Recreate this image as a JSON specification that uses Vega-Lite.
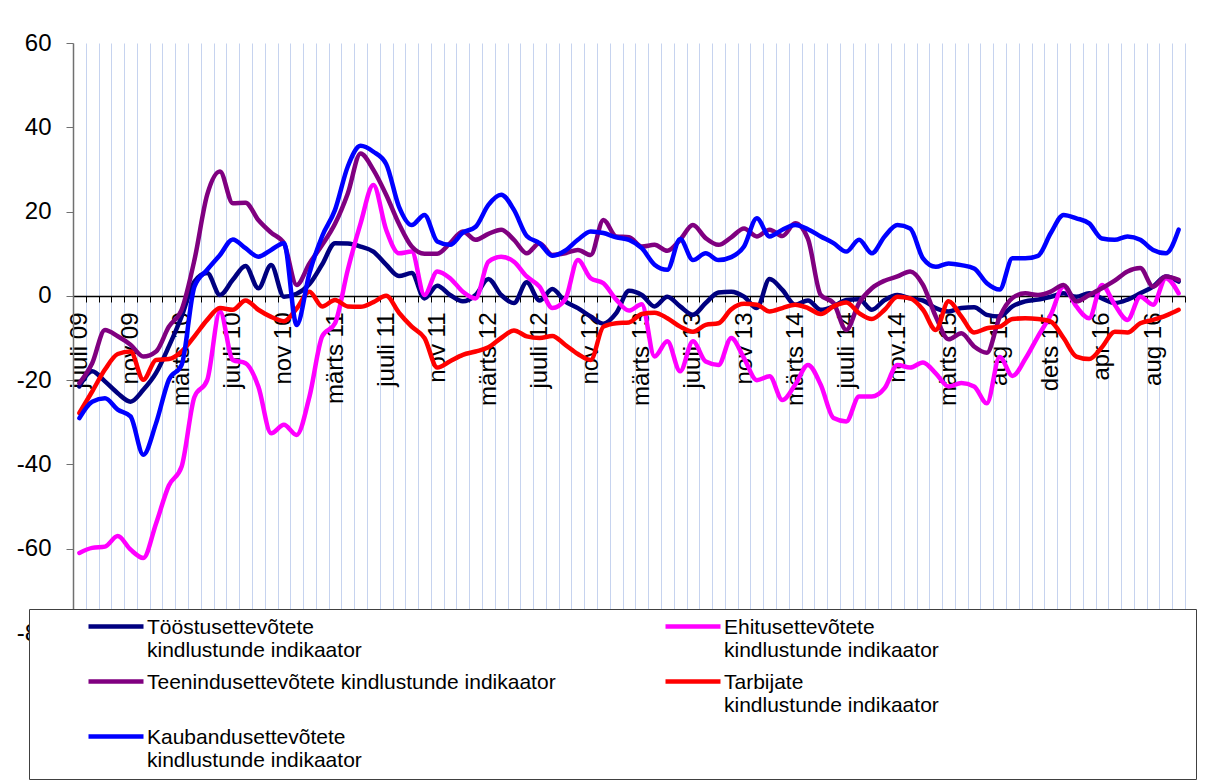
{
  "$schema": "https://vega.github.io/schema/vega-lite/v6.json",
  "width": 1112,
  "height": 590,
  "autosize": {"type": "none"},
  "padding": {"left": 73, "top": 43, "right": 29, "bottom": 148},
  "background": "white",
  "config": {"view": {"stroke": null}, "font": "Liberation Sans"},
  "data": {"values": [
    {"i":0,"T":-21.5,"E":-61,"P":-20.7,"R":-27.8,"B":-29},
    {"i":1,"T":-17.9,"E":-59.8,"P":-16,"R":-22.7,"B":-25.1},
    {"i":2,"T":-20.3,"E":-59.5,"P":-8.1,"R":-17.5,"B":-24.3},
    {"i":3,"T":-23.1,"E":-57,"P":-9.6,"R":-13.8,"B":-27},
    {"i":4,"T":-25.1,"E":-60.2,"P":-11.6,"R":-13.2,"B":-28.6},
    {"i":5,"T":-22.3,"E":-62.2,"P":-14.4,"R":-19.9,"B":-37.7},
    {"i":6,"T":-18.3,"E":-54,"P":-13.2,"R":-15.2,"B":-30.2},
    {"i":7,"T":-12,"E":-45,"P":-7.3,"R":-15,"B":-19.9},
    {"i":8,"T":-4.9,"E":-40.5,"P":-3.3,"R":-13.2,"B":-16.4},
    {"i":9,"T":3.4,"E":-24,"P":8.5,"R":-9.6,"B":2.2},
    {"i":10,"T":5.4,"E":-20,"P":24,"R":-5.7,"B":6.2},
    {"i":11,"T":0.2,"E":-3.7,"P":29.5,"R":-2.9,"B":9.7},
    {"i":12,"T":3.8,"E":-15.2,"P":22,"R":-3.3,"B":13.4},
    {"i":13,"T":7.1,"E":-16,"P":22.1,"R":-1.1,"B":11.3},
    {"i":14,"T":1.8,"E":-21.5,"P":18,"R":-3.3,"B":9.3},
    {"i":15,"T":7.3,"E":-32.6,"P":15,"R":-5,"B":10.9},
    {"i":16,"T":-0.2,"E":-30.6,"P":12.5,"R":-6,"B":12.5},
    {"i":17,"T":0.5,"E":-33,"P":2.6,"R":-3,"B":-6.9},
    {"i":18,"T":2.8,"E":-23.9,"P":7.7,"R":1,"B":5.4},
    {"i":19,"T":7.5,"E":-9.6,"P":12.1,"R":-2.5,"B":14.2},
    {"i":20,"T":12.5,"E":-6.5,"P":17.1,"R":-1,"B":20.4},
    {"i":21,"T":12.4,"E":6.2,"P":24.3,"R":-2.5,"B":30.7},
    {"i":22,"T":11.7,"E":17.2,"P":33.8,"R":-2.6,"B":35.6},
    {"i":23,"T":10.5,"E":26.3,"P":29.9,"R":-1.5,"B":34.2},
    {"i":24,"T":7.4,"E":15.7,"P":24,"R":0,"B":31.3},
    {"i":25,"T":4.7,"E":10.1,"P":17.1,"R":-4,"B":21.2},
    {"i":26,"T":5.4,"E":10.5,"P":11.7,"R":-7.3,"B":16.8},
    {"i":27,"T":-0.6,"E":0.2,"P":10,"R":-10,"B":19.2},
    {"i":28,"T":2.4,"E":5.8,"P":10,"R":-17,"B":12.9},
    {"i":29,"T":0.2,"E":4.2,"P":12.5,"R":-15.5,"B":12.1},
    {"i":30,"T":-1.3,"E":1,"P":15.3,"R":-14,"B":15},
    {"i":31,"T":0.2,"E":-0.6,"P":13.3,"R":-13.2,"B":16.4},
    {"i":32,"T":4,"E":8.1,"P":14.7,"R":-12.2,"B":21.6},
    {"i":33,"T":0.2,"E":9.3,"P":15.7,"R":-10,"B":24},
    {"i":34,"T":-1.7,"E":8.1,"P":13.3,"R":-8.2,"B":20.4},
    {"i":35,"T":3.2,"E":4.6,"P":10.1,"R":-9.6,"B":14.2},
    {"i":36,"T":-1.1,"E":2.2,"P":12.5,"R":-10,"B":12.5},
    {"i":37,"T":1.6,"E":-2.9,"P":9.7,"R":-9.5,"B":9.5},
    {"i":38,"T":-1.3,"E":-0.9,"P":10.1,"R":-11.6,"B":10.7},
    {"i":39,"T":-2.9,"E":8.5,"P":10.9,"R":-13.8,"B":13.3},
    {"i":40,"T":-4.9,"E":4.2,"P":9.7,"R":-15.2,"B":15.3},
    {"i":41,"T":-6.6,"E":3,"P":18,"R":-7.3,"B":14.9},
    {"i":42,"T":-4.1,"E":-0.9,"P":14.1,"R":-6.5,"B":13.9},
    {"i":43,"T":1.2,"E":-3.5,"P":13.9,"R":-6.3,"B":13.3},
    {"i":44,"T":0.2,"E":-2,"P":11.7,"R":-4.3,"B":11.3},
    {"i":45,"T":-2.5,"E":-14.4,"P":12.1,"R":-4,"B":7.4},
    {"i":46,"T":-0.2,"E":-10.8,"P":10.7,"R":-5.3,"B":6.2},
    {"i":47,"T":-2.5,"E":-17.9,"P":13.3,"R":-7.3,"B":13.5},
    {"i":48,"T":-4.5,"E":-10.8,"P":16.8,"R":-8.5,"B":8.5},
    {"i":49,"T":-1.7,"E":-15.6,"P":13.7,"R":-6.9,"B":10.1},
    {"i":50,"T":0.8,"E":-16.4,"P":12.1,"R":-6.5,"B":8.5},
    {"i":51,"T":1,"E":-10,"P":13.9,"R":-3.2,"B":9.2},
    {"i":52,"T":-0.2,"E":-14.8,"P":16,"R":-1.9,"B":11.7},
    {"i":53,"T":-2.9,"E":-20,"P":14.1,"R":-2.1,"B":18.4},
    {"i":54,"T":4,"E":-19.1,"P":15.7,"R":-3.7,"B":14.1},
    {"i":55,"T":1.4,"E":-24.7,"P":14.2,"R":-2.9,"B":15.7},
    {"i":56,"T":-2.1,"E":-21.1,"P":17.2,"R":-2.1,"B":16.8},
    {"i":57,"T":-1.1,"E":-16.4,"P":13.5,"R":-2.9,"B":15.8},
    {"i":58,"T":-3.3,"E":-21.1,"P":0.2,"R":-4.3,"B":14.1},
    {"i":59,"T":-2.5,"E":-29,"P":-1.7,"R":-2.5,"B":12.5},
    {"i":60,"T":-1,"E":-29.8,"P":-8.1,"R":-1.6,"B":10.5},
    {"i":61,"T":-0.8,"E":-23.9,"P":-1.7,"R":-4.1,"B":13.3},
    {"i":62,"T":-3.3,"E":-23.9,"P":1.8,"R":-5.5,"B":10.1},
    {"i":63,"T":-1,"E":-21.9,"P":3.6,"R":-3.3,"B":14.1},
    {"i":64,"T":0.2,"E":-16.4,"P":4.6,"R":-0.2,"B":16.8},
    {"i":65,"T":-0.6,"E":-17,"P":5.8,"R":-0.6,"B":16},
    {"i":66,"T":-1.1,"E":-15.8,"P":2.6,"R":-3.3,"B":8.9},
    {"i":67,"T":-2.9,"E":-18.4,"P":-4.9,"R":-8.1,"B":6.9},
    {"i":68,"T":-3.7,"E":-21.5,"P":-10.3,"R":-1.3,"B":7.7},
    {"i":69,"T":-2.9,"E":-20.7,"P":-8.9,"R":-4.9,"B":7.3},
    {"i":70,"T":-2.7,"E":-21.5,"P":-12,"R":-8.7,"B":6.5},
    {"i":71,"T":-4.5,"E":-25.5,"P":-13.5,"R":-7.7,"B":3},
    {"i":72,"T":-4.9,"E":-14.5,"P":-5,"R":-7.3,"B":1.5},
    {"i":73,"T":-2.5,"E":-19,"P":-0.5,"R":-5.5,"B":8.9},
    {"i":74,"T":-1.3,"E":-15,"P":0.6,"R":-5.3,"B":8.9},
    {"i":75,"T":-0.9,"E":-9.6,"P":0.2,"R":-5.5,"B":9.5},
    {"i":76,"T":-0.2,"E":-4.5,"P":1,"R":-6.1,"B":14.9},
    {"i":77,"T":0.6,"E":2.2,"P":2.6,"R":-10,"B":19.2},
    {"i":78,"T":-0.2,"E":-2.5,"P":-1.3,"R":-14.4,"B":18.4},
    {"i":79,"T":0.6,"E":-5.3,"P":0.2,"R":-15,"B":17.2},
    {"i":80,"T":-0.6,"E":2.6,"P":1.8,"R":-12.2,"B":13.6},
    {"i":81,"T":-1.7,"E":-2.1,"P":3.6,"R":-8.5,"B":13.3},
    {"i":82,"T":-0.9,"E":-5.7,"P":5.8,"R":-8.7,"B":14.1},
    {"i":83,"T":0.6,"E":-0.2,"P":6.6,"R":-6.5,"B":13.3},
    {"i":84,"T":2.2,"E":-2.1,"P":2.2,"R":-5.7,"B":10.9},
    {"i":85,"T":4.6,"E":4.2,"P":4.6,"R":-4.7,"B":10.1},
    {"i":86,"T":3.4,"E":0.6,"P":3.8,"R":-3.3,"B":15.7}
  ]},
  "transform": [{"fold": ["T", "E", "P", "R", "B"], "as": ["s", "v"]}],
  "mark": {"type": "line", "interpolate": "monotone", "strokeWidth": 4.5, "strokeCap": "round", "strokeJoin": "round"},
  "encoding": {
    "x": {
      "field": "i", "type": "ordinal",
      "scale": {"type": "band", "paddingInner": 0, "paddingOuter": 0},
      "bandPosition": 0.5,
      "axis": {
        "title": null, "offset": -337, "tickBand": "extent",
        "grid": true, "gridColor": "#c6d3ef", "gridWidth": 1,
        "domainColor": "black", "domainWidth": 1.5,
        "tickColor": "black", "tickSize": 6, "tickWidth": 1,
        "labelAngle": -90, "labelFontSize": 24, "labelColor": "black", "labelPadding": 10,
        "labelOverlap": false, "labelFont": "Liberation Sans",
        "labelExpr": "datum.value % 4 == 0 ? ['juuli 09','nov 09','märts 10','juuli 10','nov 10','märts 11','juuli 11','nov 11','märts 12','juuli 12','nov 12','märts 13','juuli 13','nov 13','märts 14','juuli 14','nov.14','märts 15','aug 15','dets 15','apr 16','aug 16'][datum.value / 4] : ''"
      }
    },
    "y": {
      "field": "v", "type": "quantitative",
      "scale": {"domain": [-80, 60], "nice": false, "zero": false},
      "axis": {
        "title": null, "values": [-80, -60, -40, -20, 0, 20, 40, 60], "grid": false,
        "domainColor": "#707070", "domainWidth": 1.5, "tickColor": "#707070", "tickSize": 7,
        "labelFontSize": 24, "labelColor": "black", "labelPadding": 15, "labelFont": "Liberation Sans",
        "labelExpr": "'' + datum.value"
      }
    },
    "color": {
      "field": "s", "type": "nominal",
      "scale": {"domain": ["T", "P", "B", "E", "R"], "range": ["#000080", "#800080", "#0000FF", "#FF00FF", "#FF0000"]},
      "legend": {
        "title": " ", "titleOrient": "right", "titleFontSize": 10, "titlePadding": 249,
        "orient": "none", "legendX": -44, "legendY": 566,
        "columns": 2, "columnPadding": 58, "rowPadding": 11,
        "symbolType": "stroke", "symbolSize": 3025, "symbolStrokeWidth": 4.5, "symbolOffset": 49,
        "labelFontSize": 21, "labelFont": "Liberation Sans", "labelColor": "black", "labelLimit": 700,
        "labelBaseline": "top", "labelOffset": 1,
        "padding": 8, "strokeColor": "#404040", "fillColor": "white",
        "labelExpr": "{'T': ['Tööstusettevõtete', 'kindlustunde indikaator'], 'E': ['Ehitusettevõtete', 'kindlustunde indikaator'], 'P': 'Teenindusettevõtete kindlustunde indikaator', 'R': ['Tarbijate', 'kindlustunde indikaator'], 'B': ['Kaubandusettevõtete', 'kindlustunde indikaator']}[datum.label]",
        "encode": {
          "labels": {"update": {"y": {"value": 0}, "lineHeight": {"value": 23}}},
          "symbols": {"update": {"y": {"value": 9.5}}}
        }
      }
    }
  }
}
